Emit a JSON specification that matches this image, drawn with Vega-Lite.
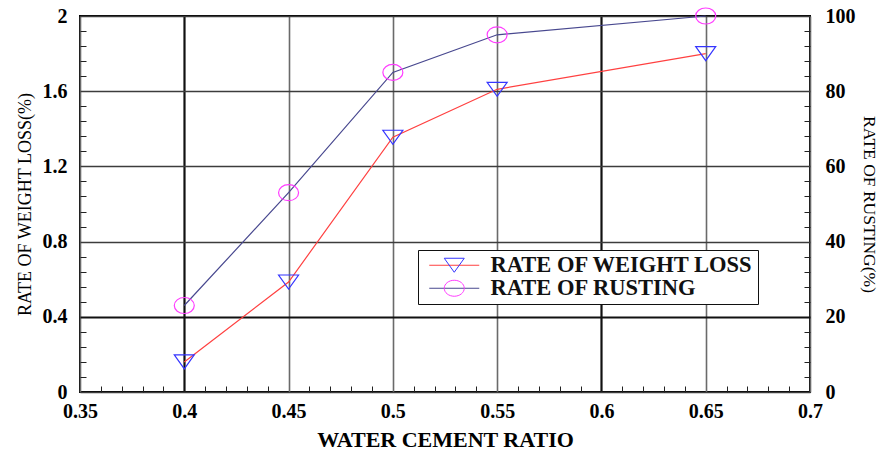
{
  "$schema": "https://vega.github.io/schema/vega-lite/v6.json",
  "width": 730,
  "height": 376,
  "autosize": {"type": "none"},
  "padding": {"left": 80, "top": 16, "right": 69, "bottom": 58},
  "background": "white",
  "config": {
    "view": {"stroke": "#000", "strokeWidth": 2},
    "font": "Liberation Serif",
    "axis": {"domain": false, "labelColor": "#000", "titleColor": "#000", "labelOverlap": false, "labelBound": false, "labelFlush": false}
  },
  "data": {
    "values": [
      {"ratio": 0.4, "loss": 0.16, "rusting": 23},
      {"ratio": 0.45, "loss": 0.585, "rusting": 53},
      {"ratio": 0.5, "loss": 1.355, "rusting": 85},
      {"ratio": 0.55, "loss": 1.61, "rusting": 95},
      {"ratio": 0.65, "loss": 1.8, "rusting": 100}
    ]
  },
  "resolve": {"scale": {"x": "independent", "y": "independent"}},
  "layer": [
    {
      "mark": {"type": "line", "strokeWidth": 1.2},
      "encoding": {
        "x": {
          "field": "ratio", "type": "quantitative",
          "scale": {"domain": [0.35, 0.7], "nice": false, "zero": false},
          "axis": {
            "orient": "bottom",
            "title": "WATER CEMENT RATIO",
            "titleFont": "Liberation Serif", "titleFontSize": 22, "titleFontWeight": "bold", "titlePadding": 8,
            "values": [0.35,0.4,0.45,0.5,0.55,0.6,0.65,0.7],
            "format": ".2~f",
            "labelFont": "Liberation Serif", "labelFontSize": 20, "labelFontWeight": "bold", "labelPadding": 9,
            "ticks": false,
            "grid": true,
            "gridColor": {"condition": {"test": "abs(datum.value-0.4) < 0.001 || abs(datum.value-0.6) < 0.001", "value": "#111"}, "value": "#6a6a6a"},
            "gridWidth": {"condition": {"test": "abs(datum.value-0.4) < 0.001 || abs(datum.value-0.6) < 0.001", "value": 2.2}, "value": 1.6}
          }
        },
        "y": {
          "field": "loss", "type": "quantitative",
          "scale": {"domain": [0, 2], "nice": false},
          "axis": {
            "orient": "left",
            "title": "RATE OF WEIGHT LOSS(%)",
            "titleFont": "Liberation Serif", "titleFontSize": 18, "titleFontWeight": "normal", "titlePadding": 8,
            "values": [0,0.4,0.8,1.2,1.6,2],
            "format": ".1~f",
            "labelFont": "Liberation Serif", "labelFontSize": 20, "labelFontWeight": "bold", "labelPadding": 13,
            "ticks": false,
            "grid": true,
            "gridColor": {"condition": {"test": "abs(datum.value-0.4) < 0.001", "value": "#111"}, "value": "#3c3c3c"},
            "gridWidth": {"condition": {"test": "abs(datum.value-0.4) < 0.001", "value": 2.2}, "value": 1.5}
          }
        },
        "color": {
          "datum": "RATE OF WEIGHT LOSS",
          "scale": {"domain": ["RATE OF WEIGHT LOSS", "RATE OF RUSTING"], "range": ["#ff4040", "#48488f"]},
          "legend": {
            "title": null, "orient": "none", "legendX": 338, "legendY": 234, "direction": "vertical",
            "symbolType": "M-2.5,0H2.5", "symbolSize": 400, "symbolStrokeWidth": 1, "symbolOffset": 21,
            "labelFont": "Liberation Serif", "labelFontSize": 22.5, "labelFontWeight": "bold", "labelColor": "#111",
            "labelOffset": 25, "labelLimit": 400, "rowPadding": 0, "padding": 4,
            "fillColor": "white", "strokeColor": "#111", "zindex": 1
          }
        }
      }
    },
    {
      "mark": {"type": "point", "filled": false, "size": 400, "strokeWidth": 1.2, "opacity": 1},
      "encoding": {
        "x": {
          "field": "ratio", "type": "quantitative",
          "scale": {"domain": [0.35, 0.7], "nice": false, "zero": false},
          "axis": {
            "orient": "bottom", "offset": -6, "tickSize": 6, "tickColor": "#222", "tickWidth": 1,
            "labels": false, "grid": false, "title": null, "domain": false,
            "values": [0.36,0.37,0.38,0.39,0.41,0.42,0.43,0.44,0.46,0.47,0.48,0.49,0.51,0.52,0.53,0.54,0.56,0.57,0.58,0.59,0.61,0.62,0.63,0.64,0.66,0.67,0.68,0.69]
          }
        },
        "y": {
          "field": "loss", "type": "quantitative",
          "scale": {"domain": [0, 2], "nice": false},
          "axis": {
            "orient": "left", "offset": -6, "tickSize": 6, "tickColor": "#222", "tickWidth": 1,
            "labels": false, "grid": false, "title": null, "domain": false,
            "values": [0.08,0.16,0.24,0.32,0.48,0.56,0.64,0.72,0.88,0.96,1.04,1.12,1.28,1.36,1.44,1.52,1.68,1.76,1.84,1.92]
          }
        },
        "shape": {
          "datum": "wl",
          "scale": {"domain": ["wl", "rs"], "range": ["M-1,-0.7L1,-0.7L0,0.7Z", "M-1,0A1,0.8,0,1,1,1,0A1,0.8,0,1,1,-1,0Z"]},
          "legend": {
            "title": null, "orient": "none", "legendX": 338, "legendY": 234, "direction": "vertical",
            "symbolSize": 400, "symbolStrokeWidth": 1, "symbolOffset": 21, "symbolFillColor": "transparent",
            "labelFontSize": 22.5, "labelExpr": "''", "labelOffset": 25,
            "rowPadding": 0, "padding": 4, "zindex": 3
          }
        },
        "stroke": {
          "datum": "wl",
          "scale": {"domain": ["wl", "rs"], "range": ["#3535ff", "#ff3cff"]},
          "legend": {
            "title": null, "orient": "none", "legendX": 338, "legendY": 234, "direction": "vertical",
            "symbolSize": 400, "symbolStrokeWidth": 1, "symbolOffset": 21, "symbolFillColor": "transparent",
            "labelFontSize": 22.5, "labelExpr": "''", "labelOffset": 25,
            "rowPadding": 0, "padding": 4, "zindex": 3
          }
        }
      }
    },
    {
      "mark": {"type": "line", "strokeWidth": 1.2},
      "encoding": {
        "x": {"field": "ratio", "type": "quantitative", "scale": {"domain": [0.35, 0.7], "nice": false, "zero": false}, "axis": null},
        "y": {
          "field": "rusting", "type": "quantitative",
          "scale": {"domain": [0, 100], "nice": false},
          "axis": {
            "orient": "right",
            "title": "RATE OF RUSTING(%)",
            "titleFont": "Liberation Serif", "titleFontSize": 17.5, "titleFontWeight": "normal", "titlePadding": 4,
            "values": [0,20,40,60,80,100],
            "labelFont": "Liberation Serif", "labelFontSize": 20, "labelFontWeight": "bold", "labelPadding": 15,
            "ticks": false,
            "grid": false
          }
        },
        "color": {"datum": "RATE OF RUSTING"}
      }
    },
    {
      "mark": {"type": "point", "filled": false, "size": 400, "strokeWidth": 1.2, "opacity": 1},
      "encoding": {
        "x": {"field": "ratio", "type": "quantitative", "scale": {"domain": [0.35, 0.7], "nice": false, "zero": false}, "axis": null},
        "y": {
          "field": "rusting", "type": "quantitative",
          "scale": {"domain": [0, 100], "nice": false},
          "axis": {
            "orient": "right", "offset": -6, "tickSize": 6, "tickColor": "#222", "tickWidth": 1,
            "labels": false, "grid": false, "title": null, "domain": false,
            "values": [4,8,12,16,24,28,32,36,44,48,52,56,64,68,72,76,84,88,92,96]
          }
        },
        "shape": {"datum": "rs"},
        "stroke": {"datum": "rs"}
      }
    }
  ]
}
